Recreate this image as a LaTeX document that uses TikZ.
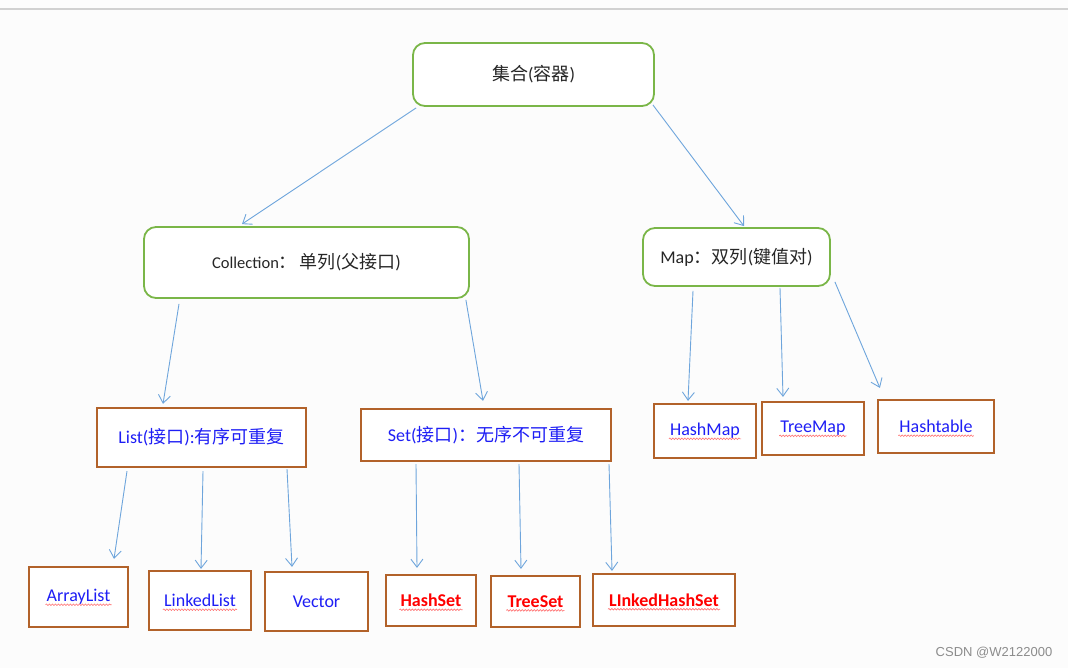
\documentclass[tikz,border=0pt]{standalone}
\usepackage{fontspec}
\setmainfont{Carlito}
\newfontfamily\cjk{Noto Sans CJK SC}
\newfontfamily\wmfont{Liberation Sans}
\usetikzlibrary{arrows.meta,decorations.pathmorphing}
\definecolor{boxgreen}{RGB}{122,182,72}
\definecolor{boxbrown}{RGB}{178,98,42}
\definecolor{arrowblue}{RGB}{110,165,220}
\definecolor{txtblue}{RGB}{30,30,245}
\definecolor{pagebg}{RGB}{252,252,252}
\newcommand\zhtext[1]{{\cjk #1}}

\begin{document}
\begin{tikzpicture}[x=1pt, y=-1pt,
        roundbox/.style={draw=boxgreen, line width=1.8pt, rounded corners=12pt, fill=white,
                         text=black!85, font=\fontsize{18}{20}\selectfont},
        leafbox/.style={draw=boxbrown, line width=2.2pt, fill=white},
        bluetxt/.style={text=txtblue, inner sep=0pt, font=\fontsize{18}{20}\selectfont},
        redtxt/.style={text=red, inner sep=0pt, font=\bfseries\fontsize{18}{20}\selectfont},
        squiggle/.style={draw=red!55, line width=0.6pt, decorate,
                         decoration={snake, amplitude=0.8pt, segment length=3pt}},
        arr/.style={-{Straight Barb[length=8pt,width=12pt]}, draw=arrowblue, line width=0.9pt}
    ]
    \fill[pagebg] (0,0) rectangle (1068,668);
    \useasboundingbox (0,0) rectangle (1068,668);
    \draw[black!18, line width=1.2pt] (0,9) -- (1068,9);

    % upper levels
    \node[roundbox, minimum width=241pt, minimum height=63pt] (top) at (533.5,74.5) {\zhtext{集合}(\zhtext{容器})};
    \node[roundbox, minimum width=325pt, minimum height=71pt] (coll) at (306.5,262.5)
        {{\fontsize{16.5}{18}\selectfont Collection}\zhtext{：}\,\zhtext{单列}(\zhtext{父接口})};
    \node[roundbox, minimum width=187pt, minimum height=58pt] (map) at (736.5,257)
        {Map\zhtext{：}\zhtext{双列}(\zhtext{键值对})};
    \node[leafbox, minimum width=209pt, minimum height=59pt] (list) at (201.5,437.5) {};
    \node[bluetxt] (listT) at (list) {List(\zhtext{接口}):\zhtext{有序可重复}};
    \node[leafbox, minimum width=250pt, minimum height=52pt] (set) at (486,435) {};
    \node[bluetxt] (setT) at (set) {Set(\zhtext{接口})\zhtext{：}\zhtext{无序不可重复}};

    % map implementations
    \node[leafbox, minimum width=102pt, minimum height=54pt] (hashmap) at (705,431) {};
    \node[bluetxt] (hashmapT) at (hashmap) {HashMap};
    \node[leafbox, minimum width=102pt, minimum height=53pt] (treemap) at (813,428.5) {};
    \node[bluetxt] (treemapT) at (treemap) {TreeMap};
    \node[leafbox, minimum width=116pt, minimum height=53pt] (hashtable) at (936,426.5) {};
    \node[bluetxt] (hashtableT) at (hashtable) {Hashtable};

    % list implementations
    \node[leafbox, minimum width=99pt, minimum height=60pt] (arraylist) at (78.5,597) {};
    \node[bluetxt] (arraylistT) at (arraylist) {ArrayList};
    \node[leafbox, minimum width=102pt, minimum height=59pt] (linkedlist) at (200,600.5) {};
    \node[bluetxt] (linkedlistT) at (linkedlist) {LinkedList};
    \node[leafbox, minimum width=103pt, minimum height=59pt] (vector) at (316.5,601.5) {};
    \node[bluetxt] (vectorT) at (vector) {Vector};

    % set implementations
    \node[leafbox, minimum width=90pt, minimum height=51pt] (hashset) at (431,600.5) {};
    \node[redtxt] (hashsetT) at (hashset) {HashSet};
    \node[leafbox, minimum width=89pt, minimum height=51pt] (treeset) at (535.5,601.5) {};
    \node[redtxt] (treesetT) at (treeset) {TreeSet};
    \node[leafbox, minimum width=142pt, minimum height=52pt] (lhashset) at (664,600) {};
    \node[redtxt] (lhashsetT) at (lhashset) {LInkedHashSet};

    \foreach \w in {hashmapT, treemapT, hashtableT, arraylistT, linkedlistT, hashsetT, treesetT, lhashsetT}
        \draw[squiggle] ([xshift=-1pt, yshift=-3pt]\w.base west) -- ([xshift=1pt, yshift=-3pt]\w.base east);

    \draw[arr] ([xshift=4pt, yshift=-1pt]top.south west) to ([xshift=-64.5pt, yshift=2pt]coll.north);
    \draw[arr] ([xshift=-2pt, yshift=2pt]top.south east) to ([xshift=7.5pt, yshift=1pt]map.north);
    \draw[arr] ([xshift=-127.5pt, yshift=-5pt]coll.south) to ([xshift=-38.5pt, yshift=3pt]list.north);
    \draw[arr] ([xshift=-4pt, yshift=-1pt]coll.south east) to ([xshift=-3pt, yshift=7pt]set.north);
    \draw[arr] ([xshift=-43.5pt, yshift=-4pt]map.south) to ([xshift=-17pt, yshift=2pt]hashmap.north);
    \draw[arr] ([xshift=43.5pt, yshift=-1pt]map.south) to ([xshift=-30pt, yshift=4pt]treemap.north);
    \draw[arr] ([xshift=4pt, yshift=5pt]map.south east) to ([xshift=3pt, yshift=11pt]hashtable.north west);
    \draw[arr] ([xshift=-74.5pt, yshift=-3pt]list.south) to ([xshift=35.5pt, yshift=7pt]arraylist.north);
    \draw[arr] ([xshift=1.5pt, yshift=-3pt]list.south) to ([xshift=1pt, yshift=1pt]linkedlist.north);
    \draw[arr] ([xshift=85.5pt, yshift=-1pt]list.south) to ([xshift=-24.5pt, yshift=4pt]vector.north);
    \draw[arr] ([xshift=-70pt, yshift=-2pt]set.south) to ([xshift=-14pt, yshift=6pt]hashset.north);
    \draw[arr] ([xshift=33pt, yshift=-2pt]set.south) to ([xshift=-14.5pt, yshift=6pt]treeset.north);
    \draw[arr] ([xshift=123pt, yshift=-2pt]set.south) to ([xshift=-52pt, yshift=2pt]lhashset.north);

    \node[text=black!45, font=\wmfont\fontsize{13}{15}\selectfont] (mark) at (994,653) {CSDN @W2122000};
\end{tikzpicture}
\end{document}
